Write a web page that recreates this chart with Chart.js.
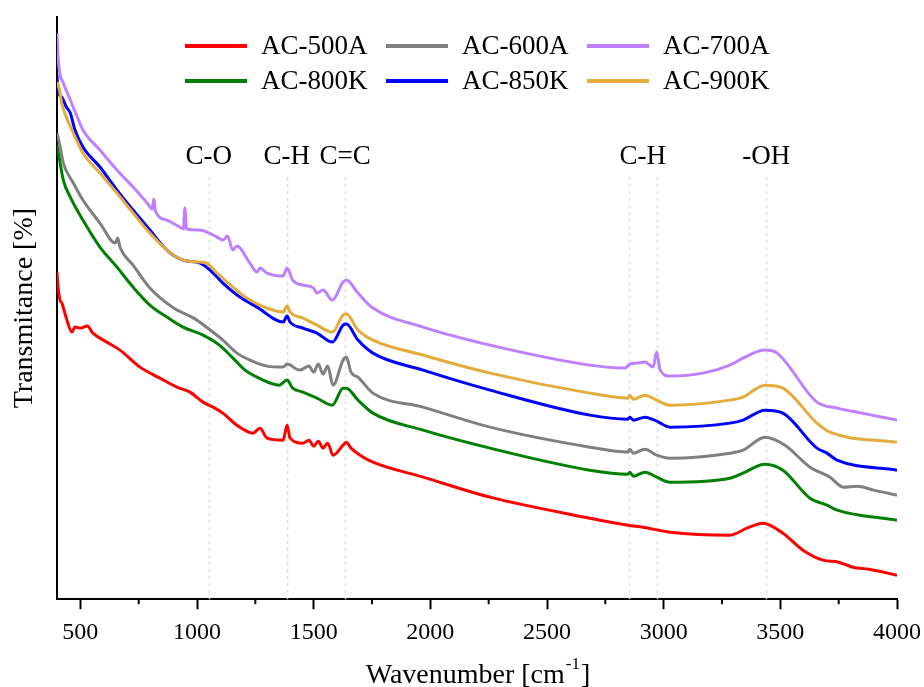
<!DOCTYPE html>
<html>
<head>
<meta charset="utf-8">
<script src="https://cdn.jsdelivr.net/npm/chart.js@4.4.0/dist/chart.umd.min.js"></script>
<style>
  html, body { margin: 0; padding: 0; background: #fff; }
  #wrap { width: 924px; height: 687px; position: relative; }
</style>
</head>
<body>
<div id="wrap"><canvas id="ftir"></canvas></div>
<script>
/* ===== FTIR SPECTRA (arbitrary transmittance units) ===== */

// AC-500A
const wave500A = [400, 404, 413, 421, 440, 464, 477, 500, 530, 554,
  614, 670, 756, 841, 914, 970, 1026, 1069, 1111, 1171,
  1240, 1270, 1300, 1369, 1386, 1399, 1454, 1480, 1500, 1520,
  1540, 1560, 1583, 1626, 1640, 1660, 1699, 1754, 1969, 2256,
  2684, 2847, 2911, 3027, 3284, 3357, 3426, 3511, 3597, 3683,
  3750, 3811, 3880, 4000];
const trans500A = [32.7, 31.4, 29.9, 29.6, 28.1, 26.7, 27.2, 27.1, 27.3, 26.6,
  25.7, 24.9, 23.2, 22.1, 21.2, 20.7, 19.7, 19.2, 18.6, 17.4,
  16.6, 17.1, 16.1, 15.9, 17.4, 16.1, 15.6, 15.9, 15.3, 15.8,
  15.1, 15.6, 14.4, 15.4, 15.7, 15.1, 14.4, 13.7, 12.2, 10.2,
  8.1, 7.4, 7.2, 6.7, 6.4, 7.1, 7.6, 6.6, 4.9, 3.9,
  3.7, 3.2, 3.0, 2.4];

// AC-600A
const wave600A = [400, 411, 420, 427, 470, 511, 584, 650, 660, 670,
  726, 798, 900, 986, 1040, 1111, 1171, 1227, 1300, 1369,
  1386, 1440, 1480, 1500, 1520, 1540, 1560, 1583, 1626, 1640,
  1660, 1690, 1754, 1969, 2256, 2684, 2847, 2855, 2870, 2920,
  2970, 3027, 3284, 3340, 3434, 3520, 3627, 3713, 3770, 3830,
  3900, 4000];
const trans600A = [46.6, 45.5, 44.4, 43.6, 41.6, 39.9, 37.6, 35.6, 36.1, 35.2,
  33.4, 31.1, 29.1, 28.1, 27.2, 25.9, 24.6, 23.9, 23.3, 23.2,
  23.5, 22.9, 23.3, 22.7, 23.5, 22.5, 23.3, 21.4, 23.9, 24.2,
  22.7, 22.2, 20.6, 19.2, 17.2, 15.2, 14.7, 15.0, 14.6, 15.0,
  14.4, 14.1, 14.6, 14.9, 16.2, 15.4, 13.2, 12.2, 11.2, 11.3,
  10.9, 10.4];

// AC-700A
const wave700A = [400, 404, 411, 427, 457, 487, 511, 584, 657, 726,
  790, 808, 815, 822, 871, 926, 942, 948, 955, 1013,
  1043, 1086, 1111, 1130, 1154, 1170, 1227, 1257, 1270, 1300,
  1369, 1386, 1410, 1454, 1500, 1514, 1540, 1580, 1626, 1640,
  1690, 1754, 1969, 2256, 2684, 2834, 2855, 2885, 2920, 2955,
  2970, 2985, 3027, 3169, 3284, 3340, 3434, 3486, 3657, 3743,
  3850, 4000];
const trans700A = [56.6, 54.4, 52.7, 51.6, 49.9, 48.2, 46.9, 44.9, 42.9, 41.2,
  39.5, 39.0, 40.0, 38.8, 37.9, 37.2, 37.0, 39.1, 37.0, 36.9,
  36.7, 36.2, 35.9, 36.3, 34.9, 35.3, 33.6, 32.7, 33.1, 32.6,
  32.3, 33.1, 31.9, 31.4, 31.1, 30.6, 30.9, 29.9, 31.7, 31.9,
  30.6, 29.1, 27.2, 25.4, 23.4, 23.1, 23.5, 23.6, 23.7, 23.2,
  24.7, 22.9, 22.3, 22.6, 23.4, 24.1, 24.9, 24.6, 19.7, 19.1,
  18.6, 17.9];

// AC-800K
const wave800K = [400, 404, 427, 457, 511, 584, 657, 726, 798, 871,
  940, 1026, 1096, 1150, 1206, 1266, 1352, 1386, 1410, 1454,
  1514, 1580, 1626, 1640, 1690, 1754, 1969, 2256, 2684, 2847,
  2855, 2870, 2920, 2970, 3027, 3284, 3340, 3434, 3511, 3627,
  3700, 3743, 4000];
const trans800K = [45.4, 44.9, 41.9, 40.2, 37.9, 35.2, 33.2, 31.2, 29.4, 28.2,
  27.2, 26.4, 25.4, 24.2, 22.9, 22.1, 21.4, 21.9, 21.1, 20.7,
  20.1, 19.4, 21.1, 21.1, 19.9, 18.6, 16.9, 15.1, 12.9, 12.5,
  12.7, 12.3, 12.7, 12.2, 11.7, 12.1, 12.6, 13.5, 12.9, 10.1,
  9.4, 8.9, 7.9];

// AC-850K
const wave850K = [400, 404, 420, 440, 457, 477, 511, 584, 657, 726,
  798, 871, 940, 1013, 1056, 1111, 1184, 1257, 1369, 1386,
  1399, 1454, 1514, 1580, 1626, 1640, 1690, 1754, 1969, 2256,
  2684, 2847, 2855, 2870, 2920, 2970, 3027, 3284, 3340, 3434,
  3511, 3657, 3700, 3743, 4000];
const trans850K = [52.4, 50.9, 50.2, 49.2, 48.6, 46.9, 45.2, 43.2, 40.9, 38.9,
  36.9, 34.9, 33.9, 33.6, 32.9, 31.6, 30.2, 29.2, 27.7, 28.3,
  27.7, 27.1, 26.6, 25.7, 27.4, 27.5, 25.9, 24.6, 22.9, 20.9,
  18.4, 18.0, 18.2, 17.9, 18.2, 17.8, 17.2, 17.6, 17.9, 18.9,
  18.6, 15.1, 14.6, 13.9, 12.9];

// AC-900K
const wave900K = [400, 411, 420, 440, 470, 511, 584, 657, 726, 798,
  871, 940, 1013, 1040, 1086, 1154, 1227, 1300, 1369, 1386,
  1399, 1454, 1514, 1580, 1626, 1640, 1690, 1754, 1969, 2256,
  2684, 2847, 2855, 2870, 2920, 2970, 3027, 3284, 3340, 3434,
  3511, 3657, 3713, 4000];
const trans900K = [51.7, 50.9, 49.6, 48.2, 46.6, 44.6, 42.6, 40.6, 38.6, 36.6,
  34.9, 33.9, 33.7, 33.6, 32.6, 31.2, 29.9, 29.1, 28.7, 29.3,
  28.7, 28.1, 27.4, 26.7, 28.4, 28.5, 26.9, 25.9, 24.4, 22.6,
  20.6, 20.1, 20.4, 20.0, 20.4, 19.9, 19.4, 19.9, 20.2, 21.4,
  21.1, 17.6, 16.7, 15.7];

// band markers
const bandWaves = [1050, 1385, 1635, 2850, 2970, 3440];
const bandLabels = ['C-O', 'C-H', 'C=C', 'C-H', '-OH'];
const bandLabelWaves = [1050, 1385, 1635, 2910, 3440];

// x axis ticks (major every 500, minor between)
const xTickValues = [500, 750, 1000, 1250, 1500, 1750, 2000, 2250, 2500, 2750, 3000, 3250, 3500, 3750, 4000];

const seriesNames = ['AC-500A', 'AC-600A', 'AC-700A', 'AC-800K', 'AC-850K', 'AC-900K'];
const seriesColors = ['#ff0000', '#808080', '#bf80ff', '#008000', '#0000ff', '#e5ab3c'];
const seriesWaves = [wave500A, wave600A, wave700A, wave800K, wave850K, wave900K];
const seriesTrans = [trans500A, trans600A, trans700A, trans800K, trans850K, trans900K];

const SERIF = '"Liberation Serif", "DejaVu Serif", serif';
Chart.defaults.font.family = SERIF;
Chart.defaults.color = '#000';

const isMajor = v => v % 500 === 0;

const datasets = seriesNames.map((name, i) => ({
  label: name,
  data: seriesWaves[i].map((w, k) => ({ x: w, y: seriesTrans[i][k] })),
  borderColor: seriesColors[i],
  backgroundColor: seriesColors[i],
  borderWidth: 3,
  pointRadius: 0,
  fill: false,
  cubicInterpolationMode: 'monotone',
  order: name === 'AC-900K' ? -1 : 0
}));

// dotted band lines behind the spectra
const bandLinesPlugin = {
  id: 'bandLines',
  beforeDatasetsDraw(chart) {
    const { ctx, chartArea, scales: { x } } = chart;
    ctx.save();
    ctx.strokeStyle = '#dedede';
    ctx.lineWidth = 1.5;
    ctx.setLineDash([3, 4]);
    bandWaves.forEach(w => {
      const px = Math.round(x.getPixelForValue(w)) + 0.5;
      ctx.beginPath();
      ctx.moveTo(px, 177);
      ctx.lineTo(px, chartArea.bottom);
      ctx.stroke();
    });
    ctx.restore();
  }
};

// short minor ticks (major ones come from chart.js)
const minorTickPlugin = {
  id: 'minorTicks',
  afterDraw(chart) {
    const { ctx, chartArea, scales: { x } } = chart;
    ctx.save();
    ctx.strokeStyle = '#000';
    ctx.lineWidth = 2;
    xTickValues.filter(v => !isMajor(v)).forEach(v => {
      const px = x.getPixelForValue(v);
      ctx.beginPath();
      ctx.moveTo(px, chartArea.bottom);
      ctx.lineTo(px, chartArea.bottom + 5);
      ctx.stroke();
    });
    ctx.restore();
  }
};

// band labels, legend and axis titles
const textPlugin = {
  id: 'texts',
  afterDraw(chart) {
    const { ctx, chartArea, scales: { x } } = chart;
    ctx.save();
    ctx.fillStyle = '#000';

    // band labels
    ctx.font = '27px ' + SERIF;
    ctx.textAlign = 'center';
    ctx.textBaseline = 'middle';
    bandLabels.forEach((t, i) => {
      ctx.fillText(t, x.getPixelForValue(bandLabelWaves[i]), 157);
    });

    // legend, 3 columns x 2 rows
    const cols = [185, 386, 587];
    const rows = [46, 81];
    ctx.textAlign = 'left';
    chart.data.datasets.forEach((ds, i) => {
      const lx = cols[i % 3];
      const ly = rows[Math.floor(i / 3)];
      ctx.strokeStyle = ds.borderColor;
      ctx.lineWidth = 4;
      ctx.beginPath();
      ctx.moveTo(lx, ly);
      ctx.lineTo(lx + 62, ly);
      ctx.stroke();
      ctx.fillText(ds.label, lx + 76, ly + 1);
    });

    // y title
    ctx.save();
    ctx.translate(25, (chartArea.top + chartArea.bottom) / 2);
    ctx.rotate(-Math.PI / 2);
    ctx.font = '28px ' + SERIF;
    ctx.textAlign = 'center';
    ctx.textBaseline = 'middle';
    ctx.fillText('Transmitance [%]', 0, 0);
    ctx.restore();

    // x title with superscript
    const main = 'Wavenumber [cm';
    const sup = '-1';
    const close = ']';
    const mainFont = '28px ' + SERIF;
    const supFont = '17px ' + SERIF;
    ctx.font = mainFont;
    const wMain = ctx.measureText(main).width;
    const wClose = ctx.measureText(close).width;
    ctx.font = supFont;
    const wSup = ctx.measureText(sup).width;
    const cx = (chartArea.left + chartArea.right) / 2;
    let sx = cx - (wMain + wSup + wClose) / 2;
    ctx.textAlign = 'left';
    ctx.textBaseline = 'alphabetic';
    ctx.font = mainFont;
    ctx.fillText(main, sx, 683);
    ctx.font = supFont;
    ctx.fillText(sup, sx + wMain + 1, 669);
    ctx.font = mainFont;
    ctx.fillText(close, sx + wMain + wSup + 2, 683);
    ctx.restore();
  }
};

new Chart(document.getElementById('ftir'), {
  type: 'line',
  data: { datasets },
  options: {
    responsive: true,
    maintainAspectRatio: false,
    animation: false,
    layout: { padding: { left: 49, right: 27, top: 17, bottom: 31 } },
    plugins: {
      legend: { display: false },
      tooltip: { enabled: false }
    },
    scales: {
      x: {
        type: 'linear',
        min: 400,
        max: 4000,
        afterBuildTicks: scale => { scale.ticks = xTickValues.map(v => ({ value: v })); },
        afterFit: scale => { scale.paddingLeft = 0; scale.paddingRight = 0; },
        ticks: {
          autoSkip: false,
          maxRotation: 0,
          padding: 9,
          color: '#000',
          font: { size: 24 },
          callback: v => (isMajor(v) ? String(v) : '')
        },
        grid: {
          display: true,
          drawOnChartArea: false,
          drawTicks: true,
          tickLength: 10,
          tickWidth: 2,
          tickColor: c => (c.tick && isMajor(c.tick.value) ? '#000' : 'rgba(0,0,0,0)')
        },
        border: { display: true, color: '#000', width: 2 }
      },
      y: {
        min: 0,
        max: 58.2,
        ticks: { display: false },
        grid: { display: false },
        border: { display: true, color: '#000', width: 2 }
      }
    }
  },
  plugins: [bandLinesPlugin, minorTickPlugin, textPlugin]
});
</script>
</body>
</html>
